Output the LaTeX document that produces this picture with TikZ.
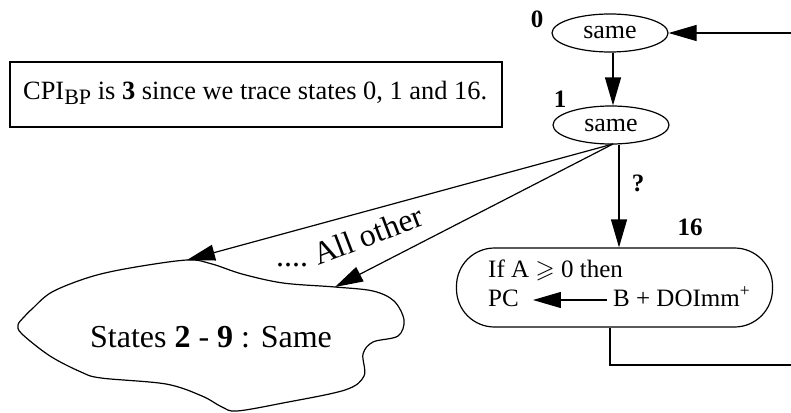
\documentclass[tikz,border=0pt]{standalone}
\usepackage{fontspec}
\usepackage{amssymb}
\setmainfont{Liberation Serif}
\usetikzlibrary{shapes.geometric,arrows.meta}

\tikzset{
  wire/.style={line width=1.2pt},
  arr/.style={wire,-{Triangle[length=28pt,width=16pt]}},
  body/.style={font=\fontsize{25}{30}\selectfont},
  notefont/.style={font=\fontsize{26.4}{32}\selectfont},
  big/.style={font=\fontsize{32}{38}\selectfont},
  tag/.style={font=\fontsize{25}{30}\selectfont\bfseries},
  stateoval/.style={draw,wire,ellipse,minimum width=116pt,minimum height=38pt,inner sep=0pt,font=\fontsize{26}{30}\selectfont},
}

\begin{document}
\begin{tikzpicture}[x=1pt,y=-1pt]
\useasboundingbox (0,0) rectangle (791,412);

% traced states
\node[stateoval] (s0) at (610,33) {same};
\node[stateoval] (s1) at (611,125) {same};
\node[tag] (t0) at (537,19) {0};
\node[tag] (t1) at (560,99) {1};

% branch state 16
\node[draw,wire,rounded corners=38pt,minimum width=316pt,minimum height=79pt,inner sep=0pt]
  (s16) at (614.5,287.5) {};
\node[tag] (t16) at (690,227) {16};
\node[body,anchor=base west,inner sep=0pt] (cond) at (488,277) {If A $\geqslant$ 0 then};
\node[body,anchor=base west,inner sep=0pt,text height=18pt,text depth=6pt] (pc) at (488,306) {PC};
\node[body,anchor=base west,inner sep=0pt,text height=18pt,text depth=6pt] (expr) at (613,306) {B + DOImm\textsuperscript{+}};
\draw[arr] ([xshift=-6pt]expr.west) -- ([xshift=14pt]pc.east);

% note
\node[draw,wire,minimum width=492pt,minimum height=65pt,inner sep=0pt] (note) at (256,94.5) {};
\node[notefont,anchor=base west,inner sep=0pt] (notetext) at (23,99)
  {CPI\raisebox{-5pt}{\fontsize{22}{22}\selectfont BP} is \textbf{3} since we trace states 0, 1 and 16.};

% cloud of the other states
\draw[wire] plot[smooth cycle,tension=0.55] coordinates {
  (187,260) (212,264) (242,274) (283,283) (335,287) (373,291) (394,301) (404,320)
  (398,336) (373,342) (363,354) (364,376) (345,390) (283,403) (237,411)
  (222,407) (202,396) (166,384) (101,378) (81,372) (50,356) (22,334) (18,325)
  (24,317) (32,309) (52,292) (90,277) (130,268)};
\node[big] (cloud) at (211,337) {States \textbf{2} - \textbf{9} : Same};
\coordinate (c1) at (187,260);
\coordinate (c2) at (335,287);

% transitions
\coordinate (fork) at (613,144);
\draw[arr] (s0.south -| 613,0) -- (s1.north -| 613,0);
\draw[arr] (s1.south -| 619,0) -- (s16.north -| 619,0);
\node[tag] (q) at (638,183) {?};
\draw[arr] (fork) -- (c1);
\draw[arr] (fork) -- (c2);
\node[big,anchor=base west,inner sep=0pt] (dots) at (276,266) {....};
\node[big,anchor=base west,inner sep=0pt,rotate=21] (other) at (318,266) {All other};

% loop back through the right edge
\coordinate (edgein) at (791,33);
\coordinate (down) at (610,365);
\coordinate (edgeout) at (791,365);
\draw[wire] (s16.south -| down) -- (down) -- (edgeout);
\draw[arr] (edgein) -- (s0.east);
\end{tikzpicture}
\end{document}
